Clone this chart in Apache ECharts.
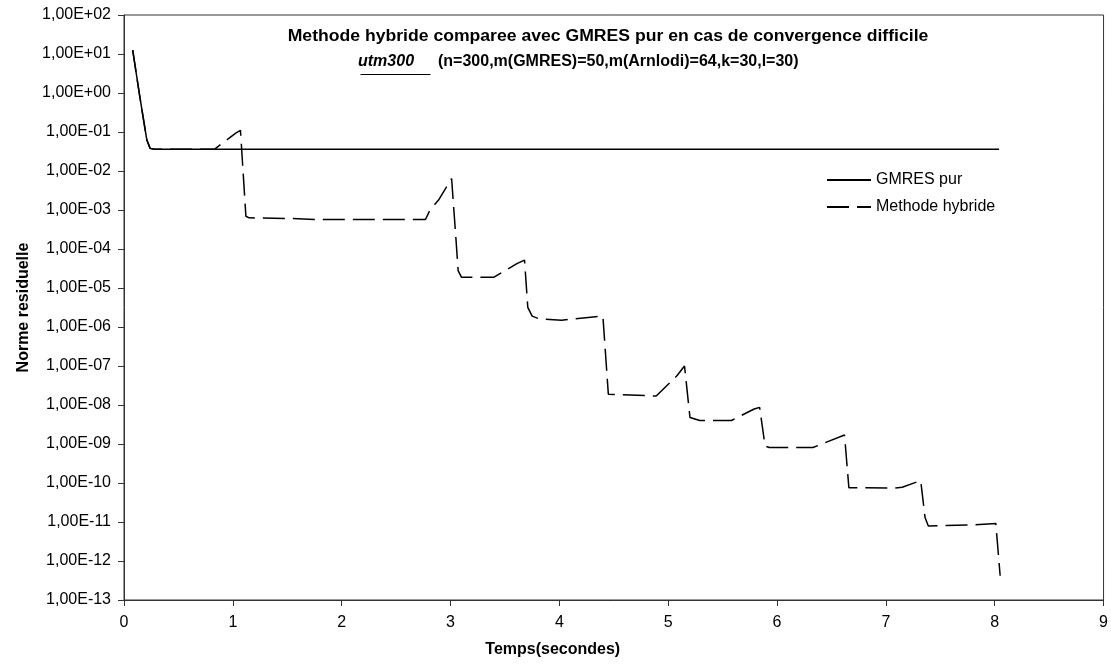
<!DOCTYPE html>
<html>
<head>
<meta charset="utf-8">
<script src="https://cdn.jsdelivr.net/npm/echarts@6/dist/echarts.min.js"></script>
<style>
  html, body { margin: 0; padding: 0; background: #ffffff; }
  #chart { width: 1111px; height: 668px; }
</style>
</head>
<body>
<div id="chart"></div>
<script>
// Residual norm versus elapsed time (seconds), log scale on the residual.
const gmresTime     = [0.08, 0.14, 0.17, 0.21, 0.24, 0.28, 8.04];
const gmresResidual = [12.6, 1.0, 0.30, 0.062, 0.038, 0.036, 0.036];

const hybridTime = [
  0.08, 0.14, 0.17, 0.21, 0.24, 0.28, 0.83,
  1.03, 1.07, 1.12, 1.15, 1.60, 1.75, 2.77,
  2.81, 2.89, 3.01, 3.05, 3.07, 3.10, 3.40,
  3.61, 3.68, 3.71, 3.75, 3.82, 4.02, 4.31, 4.40,
  4.45, 4.89, 5.08, 5.15, 5.20, 5.29, 5.58,
  5.79, 5.84, 5.89, 5.93, 6.33, 6.62, 6.66,
  7.07, 7.15, 7.32, 7.36, 7.39, 7.81, 8.01, 8.05
];
const hybridResidual = [
  12.6, 1.0, 0.30, 0.062, 0.038, 0.036, 0.036,
  0.095, 0.11, 6.9e-4, 6.3e-4, 6.0e-4, 5.7e-4, 5.7e-4,
  9.8e-4, 1.8e-3, 6.4e-3, 1.8e-4, 2.8e-5, 1.9e-5, 1.9e-5,
  4.2e-5, 5.2e-5, 3.2e-6, 1.9e-6, 1.6e-6, 1.5e-6, 1.8e-6, 1.9e-6,
  1.9e-8, 1.7e-8, 5.6e-8, 1.0e-7, 4.8e-9, 4.0e-9, 4.0e-9,
  7.9e-9, 8.7e-9, 8.9e-10, 8.1e-10, 8.1e-10, 1.7e-9, 7.6e-11,
  7.4e-11, 7.8e-11, 1.15e-10, 1.3e-11, 7.9e-12, 8.5e-12, 9.2e-12, 4.2e-13
];

const seriesNames = ['GMRES pur', 'Methode hybride'];
const yTickLabels = [
  '1,00E-13', '1,00E-12', '1,00E-11', '1,00E-10', '1,00E-09', '1,00E-08',
  '1,00E-07', '1,00E-06', '1,00E-05', '1,00E-04', '1,00E-03', '1,00E-02',
  '1,00E-01', '1,00E+00', '1,00E+01', '1,00E+02'
];
const xTickLabels = ['0', '1', '2', '3', '4', '5', '6', '7', '8', '9'];

const titleLine1 = 'Methode hybride comparee avec GMRES pur en cas de convergence difficile';
const titleMatrix = 'utm300';
const titleParams = '(n=300,m(GMRES)=50,m(Arnlodi)=64,k=30,l=30)';
const xAxisTitle = 'Temps(secondes)';
const yAxisTitle = 'Norme residuelle';

const FONT = '"Liberation Sans", Arial, sans-serif';
const INK = '#000000';

function pairs(xs, ys) { return xs.map((x, i) => [x, ys[i]]); }

const chart = echarts.init(document.getElementById('chart'), null, { renderer: 'canvas' });

chart.setOption({
  backgroundColor: '#ffffff',
  animation: false,
  textStyle: { fontFamily: FONT, color: INK },
  grid: {
    left: 124, right: 4, top: 15, bottom: 68,
    show: true, borderColor: '#333333', borderWidth: 1, backgroundColor: 'transparent'
  },
  graphic: [
    {
      // first title line, slightly widened letterforms
      type: 'text', x: 608, y: 37, scaleX: 1.1,
      style: { text: titleLine1, font: 'bold 16px ' + FONT, fill: INK, align: 'center', verticalAlign: 'middle' }
    },
    {
      type: 'text', left: 358, top: 54,
      style: { text: titleMatrix, font: 'italic bold 16px ' + FONT, fill: INK }
    },
    {
      type: 'line', left: 358, top: 72,
      shape: { x1: 0, y1: 0, x2: 70, y2: 0 },
      style: { stroke: INK, lineWidth: 1 }
    },
    {
      type: 'text', left: 438, top: 54,
      style: { text: titleParams, font: 'bold 16px ' + FONT, fill: INK }
    }
  ],
  legend: {
    orient: 'vertical',
    left: 821, top: 167,
    itemWidth: 44, itemHeight: 14, itemGap: 11,
    itemStyle: { opacity: 0, borderWidth: 0 },
    textStyle: { fontSize: 16, fontFamily: FONT, color: INK },
    data: seriesNames
  },
  xAxis: {
    type: 'value', min: 0, max: 9, interval: 1,
    name: xAxisTitle, nameLocation: 'middle', nameGap: 42,
    nameTextStyle: { fontSize: 16, fontWeight: 'bold', fontFamily: FONT, color: INK, padding: [0, 122, 0, 0] },
    axisLine: { show: true, onZero: false, lineStyle: { color: '#333333', width: 1 } },
    axisTick: { show: true, inside: false, length: 6, lineStyle: { color: '#333333' } },
    axisLabel: {
      fontSize: 16, color: INK, margin: 15,
      formatter: v => xTickLabels[Math.round(v)]
    },
    splitLine: { show: false }
  },
  yAxis: {
    type: 'log', logBase: 10, min: 1e-13, max: 1e2, interval: 1,
    name: yAxisTitle, nameLocation: 'middle', nameGap: 91, nameRotate: 90,
    nameTextStyle: { fontSize: 16, fontWeight: 'bold', fontFamily: FONT, color: INK },
    axisLine: { show: true, lineStyle: { color: '#333333', width: 1 } },
    axisTick: { show: true, inside: false, length: 6, lineStyle: { color: '#333333' } },
    axisLabel: {
      fontSize: 16, color: INK, margin: 13,
      formatter: v => yTickLabels[Math.round(Math.log10(v)) + 13]
    },
    splitLine: { show: false },
    minorTick: { show: false }
  },
  series: [
    {
      name: seriesNames[0], type: 'line', showSymbol: false, symbol: 'none',
      data: pairs(gmresTime, gmresResidual),
      lineStyle: { color: INK, width: 1.5, type: 'solid' },
      itemStyle: { color: INK },
      z: 2
    },
    {
      name: seriesNames[1], type: 'line', showSymbol: false, symbol: 'none',
      data: pairs(hybridTime, hybridResidual),
      lineStyle: { color: INK, width: 1.5, type: [22, 8] },
      itemStyle: { color: INK },
      z: 3
    }
  ]
});
</script>
</body>
</html>
